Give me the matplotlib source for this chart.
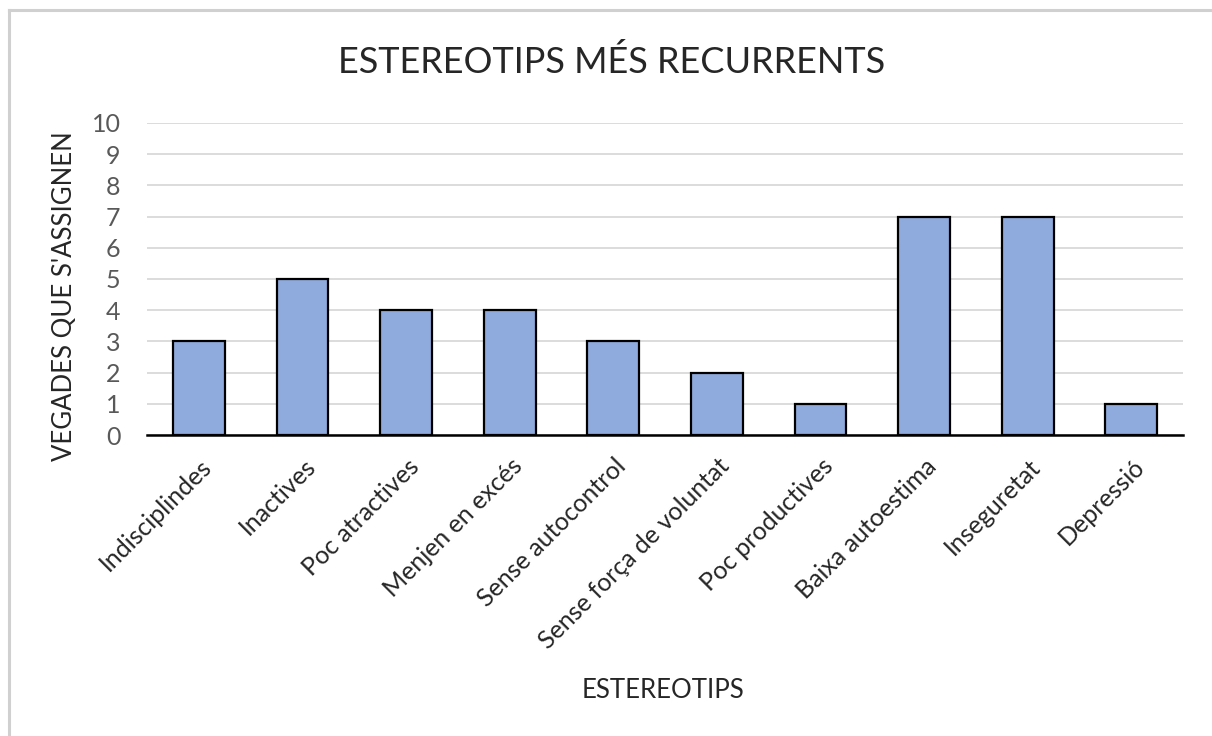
import matplotlib
matplotlib.use("Agg")
import matplotlib.pyplot as plt
from matplotlib.lines import Line2D
import matplotlib.transforms as mtransforms

categories = ["Indisciplindes", "Inactives", "Poc atractives", "Menjen en excés",
              "Sense autocontrol", "Sense força de voluntat", "Poc productives",
              "Baixa autoestima", "Inseguretat", "Depressió"]
values = [3, 5, 4, 4, 3, 2, 1, 7, 7, 1]
yticks = list(range(0, 11))

title = "ESTEREOTIPS MÉS RECURRENTS"
xlabel = "ESTEREOTIPS"
ylabel = "VEGADES QUE S'ASSIGNEN"

plt.rcParams['font.family'] = ['Lato', 'DejaVu Sans']

W, H = 1212, 736
fig = plt.figure(figsize=(W / 100, H / 100), dpi=100)
fig.patch.set_facecolor("white")

# outer chart border (only top and left visible in the reference)
fig.lines.append(Line2D([8.5 / W, 1.0], [1 - 10 / H, 1 - 10 / H], transform=fig.transFigure,
                        color="#D0D0D0", linewidth=2.2))
fig.lines.append(Line2D([8.5 / W, 8.5 / W], [0.0, 1 - 10 / H], transform=fig.transFigure,
                        color="#D0D0D0", linewidth=2.2))

ax = fig.add_axes([147 / W, 1 - 435 / H, (1183 - 147) / W, (435 - 123) / H])
x = list(range(len(categories)))
ax.bar(x, values, width=0.5, color="#8FAADC", edgecolor="black", linewidth=1.6, zorder=3)

ax.set_xlim(-0.5, len(categories) - 0.5)
ax.set_ylim(0, 10)
ax.set_yticks(yticks)
ax.set_yticklabels([str(v) for v in yticks])
ax.yaxis.grid(True, color="#D9D9D9", linewidth=1.3, zorder=0)
ax.set_axisbelow(True)
for s in ["top", "right", "left"]:
    ax.spines[s].set_visible(False)
ax.spines["bottom"].set_color("black")
ax.spines["bottom"].set_linewidth(1.8)
ax.spines["bottom"].set_zorder(4)

ax.tick_params(axis="y", length=0, pad=19, labelsize=18, labelcolor="#595959")
ax.tick_params(axis="x", length=0, pad=14, labelsize=18, labelcolor="#262626")
ax.set_xticks(x)
ax.set_xticklabels(categories, rotation=45, ha="right", rotation_mode="anchor", va="top")
offset = mtransforms.ScaledTranslation(1 / 100, 0, fig.dpi_scale_trans)
for lbl in ax.get_xticklabels():
    lbl.set_transform(lbl.get_transform() + offset)

ax.set_ylabel(ylabel, fontsize=18.5, color="#262626")
ax.yaxis.set_label_coords((77 - 147) / 1036, 0.5 - 17 / 312)

fig.text(612 / W, 1 - 62 / H, title, fontsize=26, color="#262626", ha="center", va="center")
fig.text(663 / W, 1 - 691 / H, xlabel, fontsize=18.5, color="#262626", ha="center", va="center")

fig.savefig("out.png", dpi=100, facecolor="white")
